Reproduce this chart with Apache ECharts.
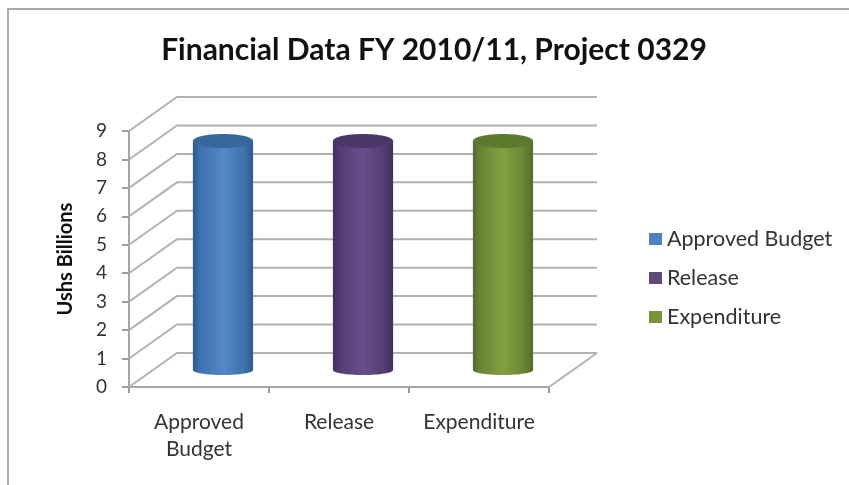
<!DOCTYPE html>
<html>
<head>
<meta charset="utf-8">
<script src="https://cdn.jsdelivr.net/npm/echarts@6/dist/echarts.min.js"></script>
<style>
  html, body { margin: 0; padding: 0; background: #fff; }
  #chart { width: 849px; height: 485px; }
</style>
</head>
<body>
<div id="chart"></div>
<script>
const categories = ['Approved\nBudget', 'Release', 'Expenditure']
const seriesNames = ['Approved Budget', 'Release', 'Expenditure']
const approvedBudget = [8.05]
const release = [8.05]
const expenditure = [8.05]
const wallTicks = [0, 1, 2, 3, 4, 5, 6, 7, 8, 9]

const fontFamily = 'Lato, "Open Sans", sans-serif'
const gridColor = '#b2b2b2'
const depthX = 48
const depthY = -34

function cylinderSeries(name, index, values, colors) {
  return {
    name: name,
    type: 'custom',
    z: 3,
    data: values.map((v) => [index, v]),
    encode: { x: 0, y: 1 },
    itemStyle: { color: colors.legend },
    renderItem(params, api) {
      const top = api.coord([api.value(0), api.value(1)])
      const base = api.coord([api.value(0), 0])
      const w = api.size([1, 0])[0] * 0.43
      const cx = top[0] + depthX / 2
      const yTop = top[1] + depthY / 2
      const yBase = base[1] + depthY / 2
      const fill = new echarts.graphic.LinearGradient(0, 0, 1, 0, [
        { offset: 0, color: colors.edge },
        { offset: 0.12, color: colors.dark },
        { offset: 0.5, color: colors.mid },
        { offset: 0.85, color: colors.dark },
        { offset: 1, color: colors.edge }
      ])
      return {
        type: 'group',
        children: [
          { type: 'ellipse', shape: { cx: cx, cy: yBase, rx: w / 2, ry: 5 }, style: { fill: fill } },
          { type: 'rect', shape: { x: cx - w / 2, y: yTop, width: w, height: yBase - yTop }, style: { fill: fill } },
          { type: 'ellipse', shape: { cx: cx, cy: yTop, rx: w / 2, ry: 7 }, style: { fill: colors.top } }
        ]
      }
    }
  }
}

const chart = echarts.init(document.getElementById('chart'))
chart.setOption({
  backgroundColor: '#fff',
  animation: false,
  title: {
    text: 'Financial Data FY 2010/11, Project 0329',
    left: 429,
    top: 30,
    textAlign: 'center',
    textStyle: { fontFamily: fontFamily, fontSize: 30, fontWeight: 'bold', color: '#111' }
  },
  legend: {
    orient: 'vertical',
    left: 649,
    top: 228,
    padding: 0,
    itemWidth: 13,
    itemHeight: 12,
    itemGap: 17,
    icon: 'rect',
    data: seriesNames,
    textStyle: { fontFamily: fontFamily, fontSize: 21.5, lineHeight: 21, color: '#333' }
  },
  grid: { left: 129, top: 131, width: 420, height: 256 },
  xAxis: {
    type: 'category',
    data: categories,
    axisTick: { show: true, length: 6, lineStyle: { color: '#9c9c9c', width: 2 } },
    axisLine: { lineStyle: { color: '#a6a6a6', width: 2 } },
    axisLabel: { interval: 0, fontFamily: fontFamily, fontSize: 21, lineHeight: 27, color: '#333', margin: 22 }
  },
  yAxis: {
    type: 'value',
    min: 0,
    max: 9,
    interval: 1,
    name: 'Ushs Billions',
    nameLocation: 'middle',
    nameGap: 53,
    nameRotate: 90,
    nameTextStyle: { fontFamily: fontFamily, fontSize: 20, fontWeight: 'bold', color: '#111' },
    axisLine: { show: true, lineStyle: { color: '#a6a6a6', width: 2 } },
    axisTick: { show: true, length: 7, lineStyle: { color: '#9c9c9c', width: 2 } },
    axisLabel: { fontFamily: fontFamily, fontSize: 19, color: '#333', margin: 22 },
    splitLine: { show: false }
  },
  series: [
    {
      type: 'custom',
      name: 'walls',
      z: 1,
      silent: true,
      data: wallTicks.map((v) => [0, v]),
      encode: { x: 0, y: 1 },
      renderItem(params, api) {
        const box = params.coordSys
        const y = api.coord([0, api.value(1)])[1]
        const lineStyle = { stroke: gridColor, lineWidth: 2, fill: null }
        const children = [{
          type: 'polyline',
          shape: { points: [[box.x, y], [box.x + depthX, y + depthY], [box.x + box.width + depthX, y + depthY]] },
          style: lineStyle
        }]
        if (api.value(1) === 0) {
          children.push({
            type: 'line',
            shape: { x1: box.x + box.width, y1: y, x2: box.x + box.width + depthX, y2: y + depthY },
            style: lineStyle
          })
        }
        return { type: 'group', children: children }
      }
    },
    cylinderSeries(seriesNames[0], 0, approvedBudget, { legend: '#4f81bd', edge: '#2e5a8e', dark: '#3f72ae', mid: '#5388c9', top: '#38679c' }),
    cylinderSeries(seriesNames[1], 1, release, { legend: '#60497a', edge: '#42305c', dark: '#533d72', mid: '#684e8b', top: '#4c3868' }),
    cylinderSeries(seriesNames[2], 2, expenditure, { legend: '#77933c', edge: '#536c29', dark: '#698534', mid: '#82a042', top: '#5c7a2e' })
  ],
  graphic: [
    {
      type: 'rect',
      silent: true,
      shape: { x: 8, y: 9, width: 900, height: 600 },
      style: { fill: null, stroke: '#a8a8a8', lineWidth: 2 }
    }
  ]
})
</script>
</body>
</html>
